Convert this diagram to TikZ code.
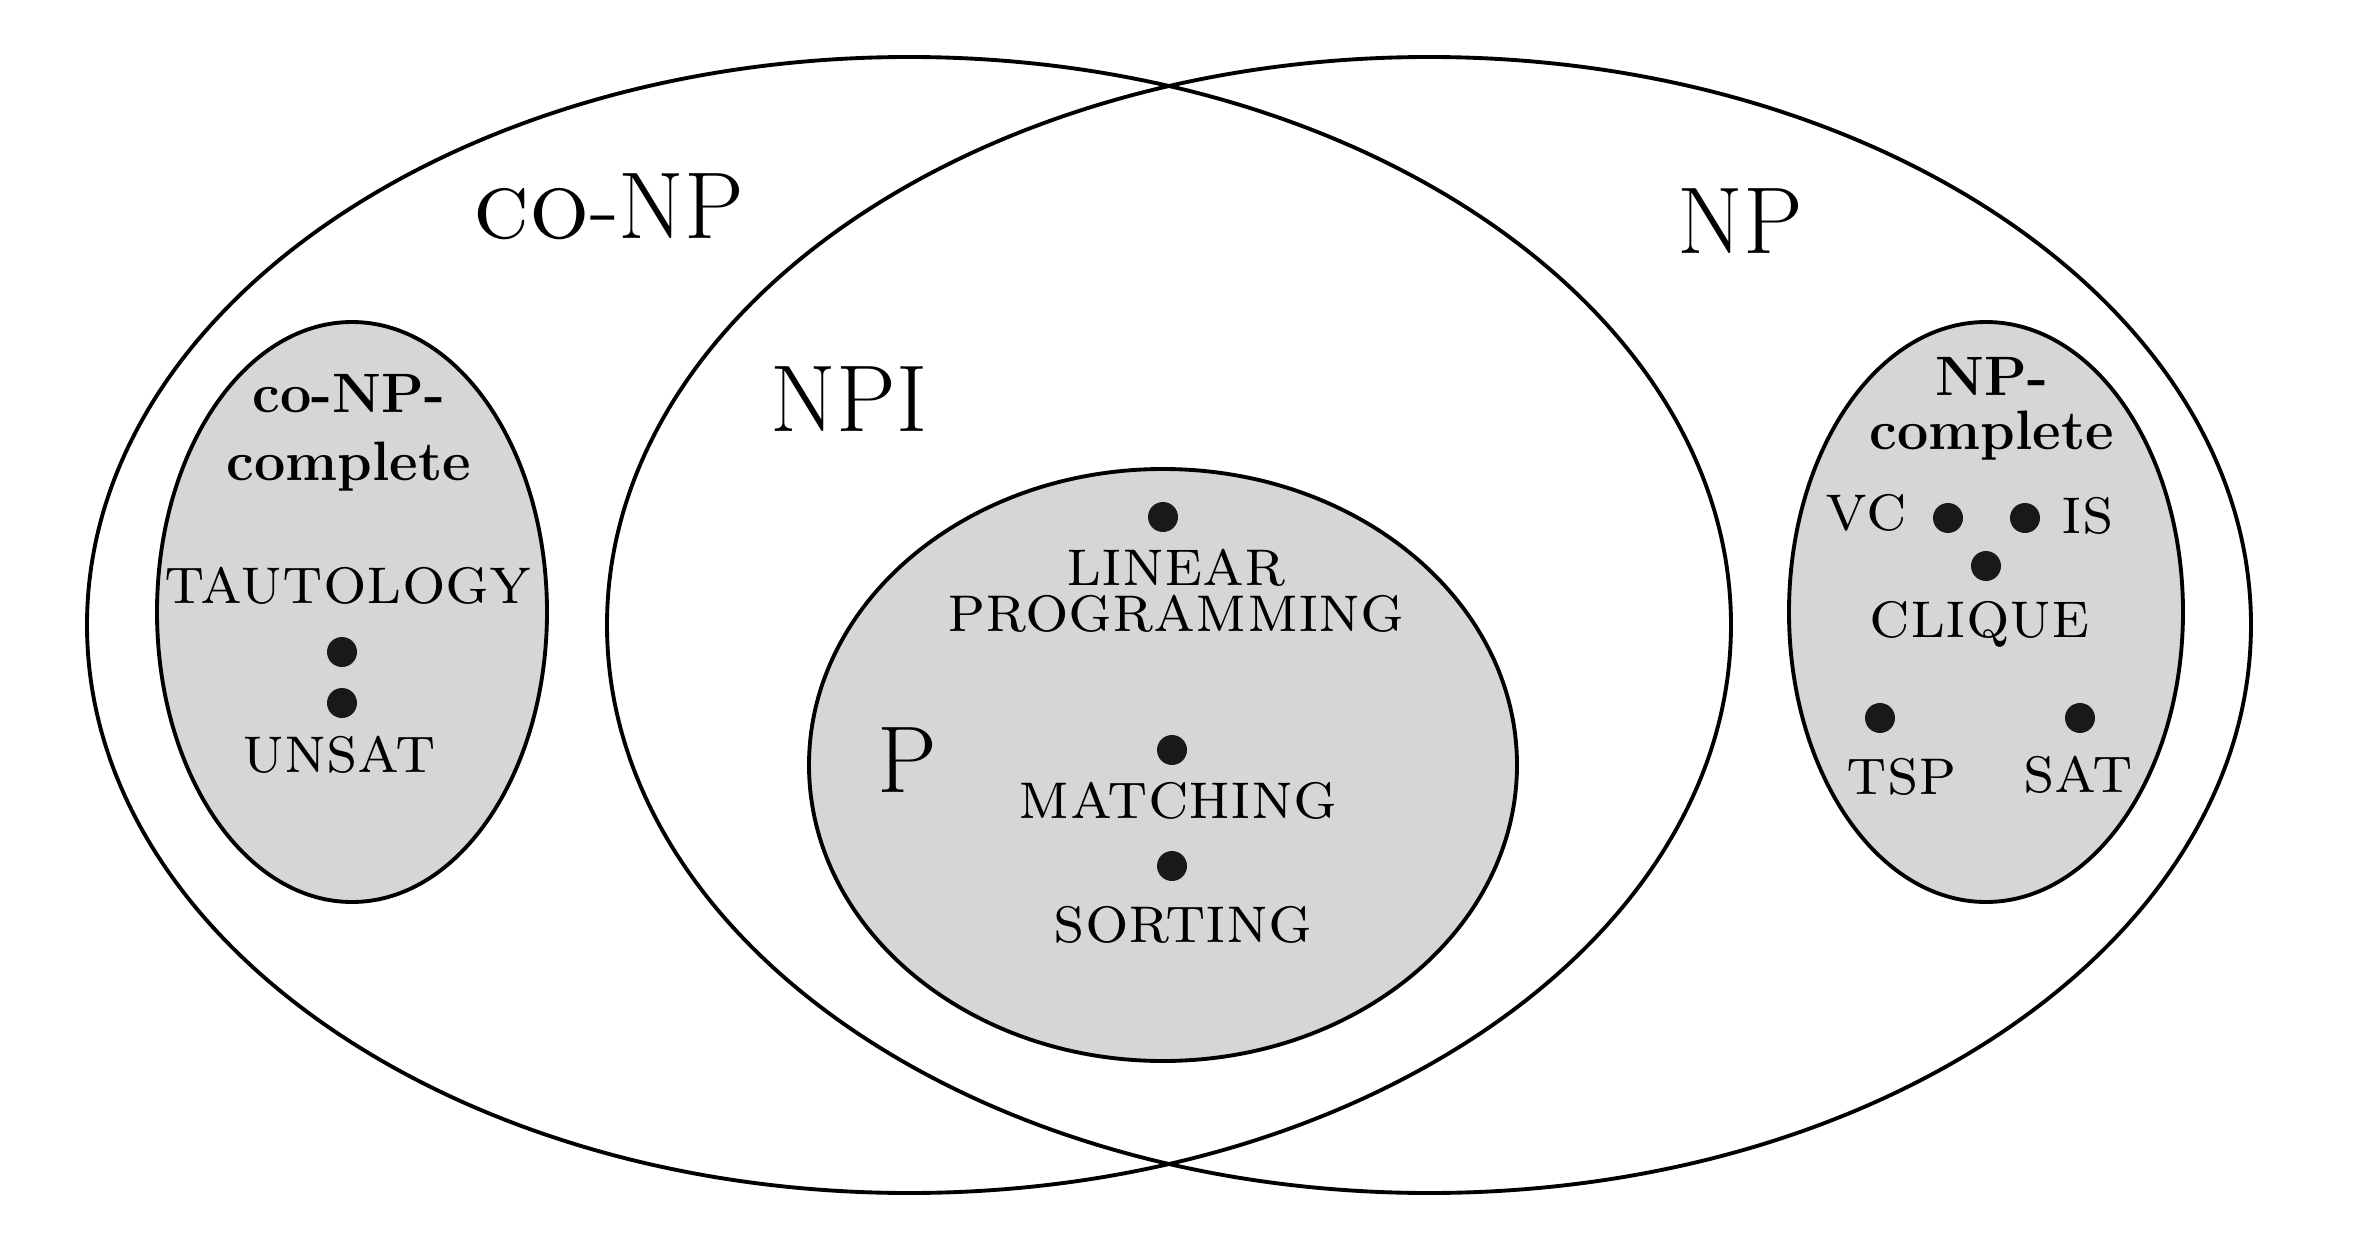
\documentclass[tikz,border=0pt]{standalone}
\begin{document}
\begin{tikzpicture}[x=0.1mm,y=-0.1mm,
    class/.style={line width=1.1pt},
    subclass/.style={class,fill=black!16},
    big/.style={font=\fontsize{27}{32}\selectfont,anchor=base},
    heading/.style={font=\fontsize{15.8}{19.5}\selectfont\bfseries,align=center},
    prob/.style={font=\fontsize{19.5}{13.1}\selectfont\scshape,anchor=base},
    dot/.style={circle,fill=black!90,inner sep=0pt,minimum size=3mm}]
  \useasboundingbox (0,0) rectangle (2372,1240);
  % the classes
  \draw[class] (909,625) ellipse [x radius=822,y radius=568];
  \draw[class] (1429,625) ellipse [x radius=822,y radius=568];
  \draw[subclass] (352,612) ellipse [x radius=195,y radius=290];
  \draw[subclass] (1163,765) ellipse [x radius=354,y radius=296];
  \draw[subclass] (1986,612) ellipse [x radius=197,y radius=290];
  % class names
  \draw
    (609,238) node[big] (conp) {\textsc{co}-NP}
    (1740,253) node[big] (np) {NP}
    (849,431) node[big] (npi) {NPI}
    (907,792) node[big] (p) {P}
    (349,433) node[heading] (conpc) {co-NP-\\complete}
    (1992,409) node[heading] (npc) {NP-\\[-4pt]complete};
  % problems
  \draw
    (348,603) node[prob] (taut) {tautology}
    (339,772) node[prob] (unsat) {unsat}
    (1176,591) node[prob,anchor=center,align=center] (lp) {linear\\programming}
    (1178,818) node[prob] (match) {matching}
    (1183,942) node[prob] (sort) {sorting}
    (1866,530) node[prob] (vc) {vc}
    (2088,533) node[prob] (is) {is}
    (1980,637) node[prob] (clique) {clique}
    (1902,794) node[prob] (tsp) {tsp}
    (2078,792) node[prob] (sat) {sat};
  \draw
    (342,652) node[dot] (d1) {}
    (342,703) node[dot] (d2) {}
    (1163,517) node[dot] (d3) {}
    (1172,750) node[dot] (d4) {}
    (1172,866) node[dot] (d5) {}
    (1948,518) node[dot] (d6) {}
    (2025,518) node[dot] (d7) {}
    (1986,566) node[dot] (d8) {}
    (1880,718) node[dot] (d9) {}
    (2080,718) node[dot] (d10) {};
\end{tikzpicture}
\end{document}
